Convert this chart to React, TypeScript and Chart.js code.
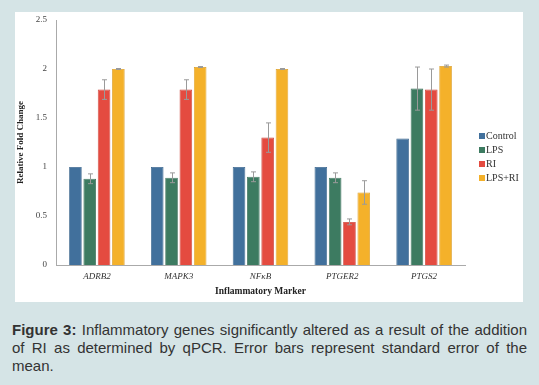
import React, { useEffect, useRef } from "react";
import { Chart, registerables } from "chart.js";

Chart.register(...registerables);

const categories = ["ADRB2", "MAPK3", "NFκB", "PTGER2", "PTGS2"];
const seriesNames = ["Control", "LPS", "RI", "LPS+RI"];
const controlValues = [1.0, 1.0, 1.0, 1.0, 1.29];
const lpsValues = [0.88, 0.89, 0.9, 0.89, 1.8];
const riValues = [1.79, 1.79, 1.3, 0.44, 1.79];
const lpsRiValues = [2.0, 2.02, 2.0, 0.74, 2.03];
const controlErr = [0, 0, 0, 0, 0];
const lpsErr = [0.05, 0.05, 0.05, 0.05, 0.22];
const riErr = [0.1, 0.1, 0.15, 0.03, 0.21];
const lpsRiErr = [0.005, 0.005, 0.005, 0.12, 0.01];
const yTicks = [0, 0.5, 1, 1.5, 2, 2.5];

const colors = ["#41709C", "#3D7B61", "#E44B40", "#F4B12A"];
const borders = ["#36628a", "#336b53", "#c94036", "#d99a22"];

const errorBarPlugin = {
  id: "errorBars",
  afterDatasetsDraw(chart: any) {
    const ctx = chart.ctx;
    const y = chart.scales.y;
    ctx.save();
    ctx.strokeStyle = "#9a9a9a";
    ctx.lineWidth = 1;
    chart.data.datasets.forEach((ds: any, i: number) => {
      const meta = chart.getDatasetMeta(i);
      meta.data.forEach((el: any, j: number) => {
        const e = ds.errors[j];
        if (!e) return;
        const v = ds.data[j];
        const top = y.getPixelForValue(v + e);
        const bot = y.getPixelForValue(v - e);
        const x = Math.round(el.x) + 0.5;
        ctx.beginPath();
        ctx.moveTo(x, top);
        ctx.lineTo(x, bot);
        ctx.moveTo(x - 2.5, top);
        ctx.lineTo(x + 2.5, top);
        ctx.moveTo(x - 2.5, bot);
        ctx.lineTo(x + 2.5, bot);
        ctx.stroke();
      });
    });
    ctx.restore();
  },
};

const legendPlugin = {
  id: "customLegend",
  afterDraw(chart: any) {
    const ctx = chart.ctx;
    ctx.save();
    ctx.font = "10px 'Liberation Serif', serif";
    ctx.textBaseline = "middle";
    chart.data.datasets.forEach((ds: any, i: number) => {
      const yy = 124 + i * 14;
      const xx = 464;
      ctx.fillStyle = ds.backgroundColor;
      ctx.fillRect(xx, yy - 3, 6, 6);
      ctx.fillStyle = "#333";
      ctx.fillText(ds.label, xx + 7, yy);
    });
    ctx.restore();
  },
};

export default function App() {
  const ref = useRef<HTMLCanvasElement>(null);
  useEffect(() => {
    const values = [controlValues, lpsValues, riValues, lpsRiValues];
    const errs = [controlErr, lpsErr, riErr, lpsRiErr];
    const chart = new Chart(ref.current!, {
      type: "bar",
      data: {
        labels: categories,
        datasets: seriesNames.map((n, i) => ({
          label: n,
          data: values[i],
          errors: errs[i],
          backgroundColor: colors[i],
          borderColor: borders[i],
          borderWidth: 0.8,
          barPercentage: 0.88,
          categoryPercentage: 0.7,
        })) as any,
      },
      options: {
        animation: false,
        responsive: false,
        layout: { padding: { top: 8, right: 58, left: 0, bottom: 0 } },
        plugins: { legend: { display: false }, tooltip: { enabled: false } },
        scales: {
          x: {
            grid: { display: false, drawTicks: false, tickLength: 0 },
            border: { display: true, color: "#aaaaaa", width: 1 },
            ticks: {
              color: "#333",
              font: { family: "'Liberation Serif', serif", size: 9, style: "italic" },
              padding: 6,
            },
            title: {
              display: true,
              text: "Inflammatory Marker",
              color: "#222",
              font: { family: "'Liberation Serif', serif", size: 9.5, weight: "bold" },
              padding: { top: 4, bottom: 5 },
            },
            afterFit: (s: any) => {
              s.height = 37;
              s.paddingLeft = 0;
              s.paddingRight = 0;
            },
          },
          y: {
            min: 0,
            max: 2.5,
            grid: { display: false, drawTicks: false, tickLength: 0 },
            border: { display: true, color: "#aaaaaa", width: 1 },
            afterBuildTicks: (s: any) => {
              s.ticks = yTicks.map((v) => ({ value: v }));
            },
            ticks: {
              color: "#444",
              font: { family: "'Liberation Serif', serif", size: 9 },
              padding: 9,
              callback: (v: any) => String(v),
            },
            title: {
              display: true,
              text: "Relative Fold Change",
              color: "#222",
              font: { family: "'Liberation Serif', serif", size: 9, weight: "bold" },
              padding: { top: 0, bottom: 0 },
            },
            afterFit: (s: any) => {
              s.width = 41;
              s.paddingTop = 0;
              s.paddingBottom = 0;
            },
          },
        },
      },
      plugins: [errorBarPlugin, legendPlugin],
    } as any);
    return () => chart.destroy();
  }, []);

  return (
    <div
      style={{
        position: "fixed",
        left: 0,
        top: 0,
        width: 539,
        height: 385,
        background: "#D5E4E6",
        overflow: "hidden",
      }}
    >
      <div
        style={{
          position: "absolute",
          left: 15,
          top: 12,
          width: 508,
          height: 290,
          background: "#ffffff",
        }}
      >
        <canvas ref={ref} width={508} height={290} style={{ width: 508, height: 290, display: "block" }} />
      </div>
      <div
        style={{
          position: "absolute",
          left: 12,
          top: 321,
          width: 515,
          fontFamily: "'Liberation Sans', Arial, sans-serif",
          fontSize: 15,
          lineHeight: "18px",
          color: "#333",
          textAlign: "justify",
        }}
      >
        <b>Figure 3:</b> Inflammatory genes significantly altered as a result of the addition of RI as
        determined by qPCR. Error bars represent standard error of the mean.
      </div>
    </div>
  );
}
